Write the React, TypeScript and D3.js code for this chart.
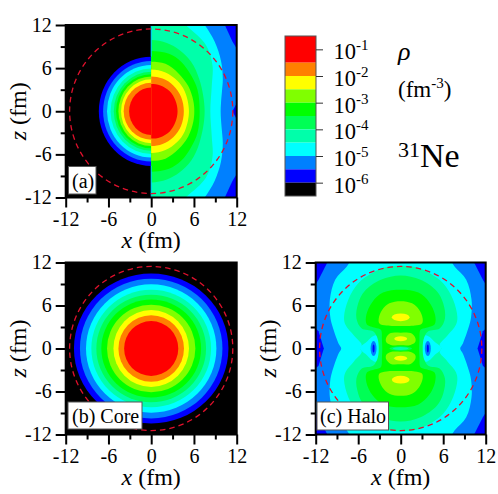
import React, { useRef, useEffect } from 'react';
import * as d3 from 'd3';

type Pt = [number, number];

// colour levels, densest first (each one is half a decade wide, red covers a full decade)
const levelColors = ['#ff0000', '#ff8000', '#ffff00', '#80ff00', '#00ff00', '#00ff55', '#00ffaa', '#00ffff', '#0080ff', '#0000ff'];
const barStops = [-0.5, -1.5, -2, -2.5, -3, -3.5, -4, -4.5, -5, -5.5, -6, -6.5];
const barColors = [...levelColors, '#000000'];
const barTicks = [-1, -2, -3, -4, -5, -6];

const majorTicks = [-12, -6, 0, 6, 12];
const minorTicks = [-9, -3, 3, 9];
const cutoffRadius = 11.45;

// core density: radii of the filled contours, same order as levelColors
const coreRx = [3.8, 4.6, 5.3, 6.2, 7.0, 7.7, 8.4, 9.15, 10.0, 10.84];
const coreRz = [3.83, 4.65, 5.37, 6.1, 6.85, 7.5, 8.2, 8.95, 9.75, 10.47];

// panel (a), x < 0 side
const leftRx = [3.1, 3.86, 4.23, 4.6, 4.93, 5.25, 5.7, 6.2, 6.75, 7.35];
const leftRz = [3.3, 3.95, 4.45, 4.85, 5.15, 5.5, 5.95, 6.45, 7.0, 7.6];

// panel (a), x > 0 side: upper-right quadrant of each contour in fm
const aRed: Pt[] = [[0, 3.8], [1.3, 3.6], [2.6, 2.8], [3.4, 1.5], [3.7, 0]];
const aOrange: Pt[] = [[0, 4.85], [1.6, 4.55], [3.1, 3.6], [4.2, 2], [4.58, 0]];
const aYellow: Pt[] = [[0, 5.8], [2, 5.4], [3.6, 4.3], [4.7, 2.8], [5.3, 0]];
const aLime: Pt[] = [[0, 6.9], [2, 6.6], [3.8, 5.3], [5.2, 3.5], [5.9, 1.5], [6.05, 0]];
const aGreen: Pt[] = [[0, 8.4], [2.5, 8], [4.2, 6.9], [5.6, 5], [6.5, 3], [6.8, 0]];
const a55: Pt[] = [[0, 9.9], [2.2, 9.5], [4, 8.5], [5.6, 6.9], [6.8, 4.3], [7.5, 0]];
const aAA: Pt[] = [[0, 12.6], [4, 12.6], [5.1, 11.75], [7.7, 9.2], [8.6, 6.4], [8.5, 3.5], [8.3, 0]];
const aCyan: Pt[] = [[0, 13], [6.6, 13], [7.5, 12], [8.9, 9.7], [9.8, 7], [10.05, 4.5], [9.95, 3], [9.8, 1.2], [9.75, 0]];
const aBlueCorner: Pt[] = [[10.1, 12.5], [11.4, 9.7], [12.5, 7.9], [12.5, 12.5]];
const aBlueSide: Pt[] = [[12.5, 2], [11.4, 0], [12.5, -2]];

// panel (c): upper-right quadrant of each contour in fm
const cBlueCorner: Pt[] = [[10.1, 12.5], [11.6, 9.6], [12.5, 8.2], [12.5, 12.5]];
const cBlueSide: Pt[] = [[12.5, 3.2], [11.6, 2.4], [10.85, 0], [11.6, -2.4], [12.5, -3.2]];
const cCyan: Pt[] = [[0, 13], [6.4, 13], [7.6, 11.45], [9.25, 9.6], [10, 6.8], [9.95, 4.5], [9.7, 3.3], [8.8, 0.75], [8.4, 0]];
const cAA: Pt[] = [[0, 11.55], [2.2, 11.35], [4.1, 10.5], [6, 9.1], [7.4, 6.8], [8, 4.4], [7.8, 3.3], [6.6, 1.8], [5.5, 0.5], [5.75, 0]];
const c55: Pt[] = [[0, 10.2], [2.8, 9.6], [5.1, 8], [6, 6.3], [6.25, 4.2], [5.5, 2.8], [3.9, 2.4], [3.3, 1.5], [3.1, 0]];
const cGreen: Pt[] = [[0, 8.2], [2.5, 7.8], [4, 6.5], [4.85, 4.7], [4.8, 3.4], [3.6, 2.9], [2.8, 2.6], [2.65, 1.2], [2.6, 0]];
const cLobe: Pt[] = [[0, 6.6], [1.6, 6.3], [2.6, 5.4], [3.1, 4.2], [3, 3.5], [2, 3.2], [0, 3.15]];
const cInner: Pt[] = [[0, 2.2], [1.4, 2.15], [2.05, 1.5], [2.05, 0.9], [1.4, 0.5], [0, 0.45]];
const cTear: Pt[] = [[3.05, 0], [3.1, 1.2], [3.5, 1.85], [4.1, 1.6], [4.7, 1.0], [5.75, 0.02]];

// ellipses in panel (c): [centre x, centre z, rx, rz, colour]
const cSpots: [number, number, number, number, string][] = [
  [0, 4.35, 1.25, 0.55, '#ffff00'],
  [0, -4.35, 1.25, 0.55, '#ffff00'],
  [0, 1.35, 0.9, 0.35, '#ffff00'],
  [0, -1.35, 0.9, 0.35, '#ffff00'],
  [0, 0, 1.6, 0.3, '#00ff55'],
  [0, 0, 1.1, 0.2, '#00ffaa'],
  [3.83, 0, 0.42, 1.05, '#0080ff'],
  [-3.83, 0, 0.42, 1.05, '#0080ff'],
  [3.83, 0, 0.14, 0.55, '#0000ff'],
  [-3.83, 0, 0.14, 0.55, '#0000ff'],
];

const serif = '"Liberation Serif", serif';

// quadrant -> closed loop, mirrored in z then in x
const fullLoop = (q: Pt[]): Pt[] => {
  const right: Pt[] = [...q, ...q.slice(0, -1).reverse().map(([x, z]): Pt => [x, -z])];
  const left: Pt[] = right.slice(1, -1).reverse().map(([x, z]): Pt => [-x, z]);
  return [...right, ...left];
};
const xMirror = (q: Pt[]): Pt[] => [...q, ...q.slice(1, -1).reverse().map(([x, z]): Pt => [-x, z])];
const zMirror = (q: Pt[]): Pt[] => [...q, ...q.slice(1, -1).reverse().map(([x, z]): Pt => [x, -z])];
const flipX = (q: Pt[]): Pt[] => q.map(([x, z]): Pt => [-x, z]);
const flipZ = (q: Pt[]): Pt[] => q.map(([x, z]): Pt => [x, -z]);

const App = () => {
  const svgRef = useRef<SVGSVGElement>(null);

  useEffect(() => {
    const svg = d3.select(svgRef.current);
    svg.selectAll('*').remove();

    const drawPanel = (
      id: string,
      left: number, right: number, top: number, bottom: number,
      label: string, box: [number, number, number, number], labelAt: [number, number],
      paint: (g: any, x: any, z: any) => void,
    ) => {
      const x = d3.scaleLinear().domain([-12, 12]).range([left, right]);
      const z = d3.scaleLinear().domain([-12, 12]).range([bottom, top]);

      svg.append('clipPath').attr('id', id)
        .append('rect').attr('x', left).attr('y', top)
        .attr('width', right - left).attr('height', bottom - top);

      const g = svg.append('g').attr('clip-path', `url(#${id})`);
      paint(g, x, z);

      // cutoff circle
      svg.append('ellipse')
        .attr('cx', x(0)).attr('cy', z(0))
        .attr('rx', x(cutoffRadius) - x(0)).attr('ry', z(0) - z(cutoffRadius))
        .attr('fill', 'none').attr('stroke', '#e0102c').attr('stroke-width', 1.3)
        .attr('stroke-dasharray', '5.5 4');

      // frame
      svg.append('rect').attr('x', left).attr('y', top)
        .attr('width', right - left).attr('height', bottom - top)
        .attr('fill', 'none').attr('stroke', '#000').attr('stroke-width', 2);

      // axes, minor ticks first
      const styleAxis = (a: any) => {
        a.select('.domain').remove();
        a.selectAll('line').attr('stroke', '#000').attr('stroke-width', 2);
        a.selectAll('text').attr('font-family', serif).attr('font-size', 20).attr('fill', '#000');
      };
      svg.append('g').attr('transform', `translate(0,${bottom})`)
        .call(d3.axisBottom(x).tickValues(minorTicks).tickSize(5).tickFormat(() => '')).call(styleAxis);
      svg.append('g').attr('transform', `translate(0,${bottom})`)
        .call(d3.axisBottom(x).tickValues(majorTicks).tickSize(10).tickPadding(4).tickFormat(d => String(d))).call(styleAxis);
      svg.append('g').attr('transform', `translate(${left},0)`)
        .call(d3.axisLeft(z).tickValues(minorTicks).tickSize(5).tickFormat(() => '')).call(styleAxis);
      svg.append('g').attr('transform', `translate(${left},0)`)
        .call(d3.axisLeft(z).tickValues(majorTicks).tickSize(10).tickPadding(4).tickFormat(d => String(d))).call(styleAxis);

      // axis titles
      const xTitle = svg.append('text')
        .attr('x', x(0)).attr('y', bottom + 50.5).attr('text-anchor', 'middle')
        .attr('font-family', serif).attr('font-size', 24);
      xTitle.append('tspan').attr('font-style', 'italic').text('x');
      xTitle.append('tspan').text(' (fm)');
      const zTitle = svg.append('text')
        .attr('transform', `translate(${left - 40},${z(0)}) rotate(-90)`).attr('text-anchor', 'middle')
        .attr('font-family', serif).attr('font-size', 24);
      zTitle.append('tspan').attr('font-style', 'italic').text('z');
      zTitle.append('tspan').text(' (fm)');

      // panel tag
      svg.append('rect')
        .attr('x', box[0]).attr('y', box[1]).attr('width', box[2]).attr('height', box[3])
        .attr('fill', '#fff').attr('stroke', '#555').attr('stroke-width', 1);
      svg.append('text')
        .attr('x', labelAt[0]).attr('y', labelAt[1])
        .attr('font-family', serif).attr('font-size', 20).text(label);
    };

    const shape = (g: any, x: any, z: any, pts: Pt[], fill: string, closedCurve = true) => {
      const line = d3.line<Pt>()
        .x(d => x(d[0])).y(d => z(d[1]))
        .curve(closedCurve ? d3.curveCatmullRomClosed.alpha(0.5) : d3.curveLinearClosed);
      g.append('path').attr('d', line(pts)).attr('fill', fill);
    };

    // panel (a)
    drawPanel('clipA', 65.7, 236.7, 25, 197.5, '(a)', [68.5, 166.5, 27.5, 27.5], [72, 188], (g, x, z) => {
      g.append('rect').attr('x', x(-12)).attr('y', z(12)).attr('width', x(12) - x(-12)).attr('height', z(-12) - z(12)).attr('fill', '#000');

      svg.append('clipPath').attr('id', 'halfL').append('rect').attr('x', x(-12)).attr('y', z(12)).attr('width', x(0) - x(-12)).attr('height', z(-12) - z(12));
      svg.append('clipPath').attr('id', 'halfR').append('rect').attr('x', x(0)).attr('y', z(12)).attr('width', x(12) - x(0)).attr('height', z(-12) - z(12));

      const lg = g.append('g').attr('clip-path', 'url(#halfL)');
      d3.range(levelColors.length).reverse().forEach(i => {
        lg.append('ellipse').attr('cx', x(0)).attr('cy', z(0))
          .attr('rx', x(leftRx[i]) - x(0)).attr('ry', z(0) - z(leftRz[i])).attr('fill', levelColors[i]);
      });

      const rg = g.append('g').attr('clip-path', 'url(#halfR)');
      rg.append('rect').attr('x', x(0)).attr('y', z(12)).attr('width', x(12) - x(0)).attr('height', z(-12) - z(12)).attr('fill', '#0080ff');
      shape(rg, x, z, aBlueCorner, '#0000ff', false);
      shape(rg, x, z, flipZ(aBlueCorner), '#0000ff', false);
      shape(rg, x, z, aBlueSide, '#0000ff', false);
      const bands: [Pt[], string][] = [
        [aCyan, '#00ffff'], [aAA, '#00ffaa'], [a55, '#00ff55'], [aGreen, '#00ff00'],
        [aLime, '#80ff00'], [aYellow, '#ffff00'], [aOrange, '#ff8000'], [aRed, '#ff0000'],
      ];
      bands.forEach(([q, c]) => shape(rg, x, z, fullLoop(q), c));

      // thin seam along x = 0 outside the left contours
      [[7.6, 12], [-12, -7.6]].forEach(([a, b]) => {
        g.append('line').attr('x1', x(0)).attr('x2', x(0)).attr('y1', z(a)).attr('y2', z(b))
          .attr('stroke', '#00c0ff').attr('stroke-width', 1);
      });
    });

    // panel (b)
    drawPanel('clipB', 65.7, 236.7, 262.5, 434.5, '(b) Core', [68, 402, 74, 27], [72, 422.7], (g, x, z) => {
      g.append('rect').attr('x', x(-12)).attr('y', z(12)).attr('width', x(12) - x(-12)).attr('height', z(-12) - z(12)).attr('fill', '#000');
      d3.range(levelColors.length).reverse().forEach(i => {
        g.append('ellipse').attr('cx', x(0)).attr('cy', z(0))
          .attr('rx', x(coreRx[i]) - x(0)).attr('ry', z(0) - z(coreRz[i])).attr('fill', levelColors[i]);
      });
    });

    // panel (c)
    drawPanel('clipC', 315.7, 485.7, 262.5, 434.5, '(c) Halo', [317, 402, 71.5, 28], [320, 422.7], (g, x, z) => {
      g.append('rect').attr('x', x(-12)).attr('y', z(12)).attr('width', x(12) - x(-12)).attr('height', z(-12) - z(12)).attr('fill', '#0080ff');
      [(q: Pt[]) => q, flipX].forEach(fx => {
        shape(g, x, z, fx(cBlueSide), '#0000ff', false);
        shape(g, x, z, fx(cBlueCorner), '#0000ff', false);
        shape(g, x, z, fx(flipZ(cBlueCorner)), '#0000ff', false);
      });
      shape(g, x, z, fullLoop(cCyan), '#00ffff');
      shape(g, x, z, fullLoop(cAA), '#00ffaa');
      shape(g, x, z, zMirror(cTear), '#00ffff');
      shape(g, x, z, flipX(zMirror(cTear)), '#00ffff');
      shape(g, x, z, fullLoop(c55), '#00ff55');
      shape(g, x, z, fullLoop(cGreen), '#00ff00');
      shape(g, x, z, xMirror(cLobe), '#80ff00');
      shape(g, x, z, flipZ(xMirror(cLobe)), '#80ff00');
      shape(g, x, z, xMirror(cInner), '#80ff00');
      shape(g, x, z, flipZ(xMirror(cInner)), '#80ff00');
      cSpots.forEach(([cx, cz, rx, rz, c]) => {
        g.append('ellipse').attr('cx', x(cx)).attr('cy', z(cz))
          .attr('rx', x(rx) - x(0)).attr('ry', z(0) - z(rz)).attr('fill', c);
      });
    });

    // colour bar
    const barX0 = 285;
    const barX1 = 316;
    const barY = d3.scaleLinear().domain([-0.5, -6.5]).range([36, 196]);
    barColors.forEach((c, i) => {
      svg.append('rect').attr('x', barX0).attr('width', barX1 - barX0)
        .attr('y', barY(barStops[i])).attr('height', barY(barStops[i + 1]) - barY(barStops[i]))
        .attr('fill', c);
    });
    svg.append('rect').attr('x', barX0).attr('y', 36).attr('width', barX1 - barX0).attr('height', 160)
      .attr('fill', 'none').attr('stroke', '#555').attr('stroke-width', 1);
    const barAxis = svg.append('g').attr('transform', `translate(${barX1},0)`)
      .call(d3.axisRight(barY).tickValues(barTicks).tickSize(7).tickFormat(() => ''));
    barAxis.select('.domain').remove();
    barAxis.selectAll('line').attr('stroke', '#333').attr('stroke-width', 1);
    barTicks.forEach(t => {
      const txt = svg.append('text').attr('x', 333.5).attr('y', barY(t) + 10)
        .attr('font-family', serif).attr('font-size', 22.5);
      txt.append('tspan').text('10');
      txt.append('tspan').attr('font-size', 15).attr('dy', -9).text(String(t));
    });

    // side labels
    svg.append('text').attr('x', 398).attr('y', 60)
      .attr('font-family', serif).attr('font-style', 'italic').attr('font-size', 26).text('ρ');
    const unit = svg.append('text').attr('x', 398).attr('y', 97)
      .attr('font-family', serif).attr('font-size', 23);
    unit.append('tspan').text('(fm');
    unit.append('tspan').attr('font-size', 15).attr('dy', -9).text('-3');
    unit.append('tspan').attr('dy', 9).text(')');
    const nucleus = svg.append('text').attr('x', 398).attr('y', 167)
      .attr('font-family', serif).attr('font-size', 34);
    nucleus.append('tspan').attr('font-size', 22).attr('dy', -10).text('31');
    nucleus.append('tspan').attr('dy', 10).text('Ne');
  }, []);

  return (
    <svg ref={svgRef} width={498} height={494} style={{ position: 'absolute', left: 0, top: 0 }} />
  );
};

export default App;
